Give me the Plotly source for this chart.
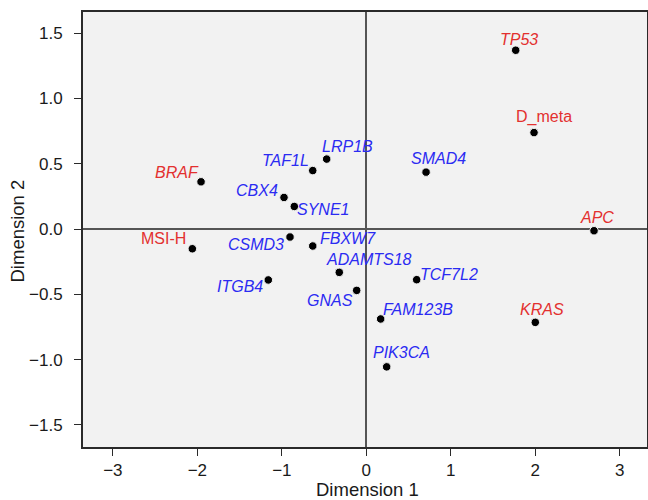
import plotly.graph_objects as go

# ---- data ----
names = ["TP53", "D_meta", "APC", "KRAS", "BRAF", "MSI-H",
         "LRP1B", "TAF1L", "CBX4", "SYNE1", "SMAD4", "CSMD3", "FBXW7",
         "ADAMTS18", "ITGB4", "TCF7L2", "GNAS", "FAM123B", "PIK3CA"]
dim1 = [1.768, 1.985, 2.695, 2.000, -1.956, -2.059,
        -0.469, -0.634, -0.974, -0.852, 0.707, -0.903, -0.634,
        -0.320, -1.160, 0.596, -0.114, 0.170, 0.241]
dim2 = [1.370, 0.739, -0.013, -0.715, 0.362, -0.151,
        0.536, 0.448, 0.242, 0.173, 0.436, -0.061, -0.130,
        -0.332, -0.390, -0.388, -0.470, -0.689, -1.056]
red_set = ["TP53", "D_meta", "APC", "KRAS", "BRAF", "MSI-H"]
upright_set = ["D_meta", "MSI-H"]
x_ticks = [-3, -2, -1, 0, 1, 2, 3]
y_ticks = [-1.5, -1.0, -0.5, 0.0, 0.5, 1.0, 1.5]
x_title = "Dimension 1"
y_title = "Dimension 2"

# ---- label placement styles (xanchor, xshift, yshift) ----
label_style = {
    "TP53": ("center", 3, 11),
    "D_meta": ("center", 10, 16),
    "APC": ("center", 3, 13),
    "KRAS": ("center", 7, 13),
    "BRAF": ("right", 0, 9),
    "MSI-H": ("right", -4, 10),
    "LRP1B": ("left", -7, 13),
    "TAF1L": ("right", -2, 10),
    "CBX4": ("right", -4, 7),
    "SYNE1": ("left", 1, -3),
    "SMAD4": ("center", 12, 14),
    "CSMD3": ("right", -4, -7),
    "FBXW7": ("left", 5, 8),
    "ADAMTS18": ("left", -15, 13),
    "ITGB4": ("right", -3, -7),
    "TCF7L2": ("left", 1, 5),
    "GNAS": ("right", -2, -10),
    "FAM123B": ("left", 0, 9),
    "PIK3CA": ("left", -16, 14),
}

RED = "#e3302f"
BLUE = "#2b2bf2"
FONT = "Liberation Sans, Arial, Helvetica, sans-serif"

fig = go.Figure()
fig.add_trace(go.Scatter(
    x=dim1, y=dim2, mode="markers",
    marker=dict(color="black", size=8.5, line=dict(color="#f2f2f2", width=1)),
    hovertext=names, showlegend=False,
))

annotations = []
for n, x, y in zip(names, dim1, dim2):
    xa, xs, ys = label_style[n]
    txt = n if n in upright_set else f"<i>{n}</i>"
    annotations.append(dict(
        x=x, y=y, xref="x", yref="y", text=txt, showarrow=False,
        xanchor=xa, yanchor="middle", xshift=xs, yshift=ys,
        font=dict(family=FONT, size=16, color=RED if n in red_set else BLUE),
    ))

# axis titles
annotations.append(dict(
    x=0.5, y=0, xref="paper", yref="paper", text=x_title, showarrow=False,
    xanchor="center", yanchor="middle", xshift=2, yshift=-42,
    font=dict(family=FONT, size=18.5, color="#1a1a1a"),
))
annotations.append(dict(
    x=0, y=0.5, xref="paper", yref="paper", text=y_title, showarrow=False,
    xanchor="center", yanchor="middle", xshift=-66, yshift=-2, textangle=-90,
    font=dict(family=FONT, size=18.5, color="#1a1a1a"),
))

fig.update_layout(
    width=648, height=500,
    margin=dict(l=83, r=1, t=12, b=52.5),
    paper_bgcolor="white", plot_bgcolor="#f2f2f2",
    font=dict(family=FONT, size=17, color="#1a1a1a"),
    annotations=annotations,
)
axis_common = dict(
    showgrid=False, zeroline=True, zerolinecolor="#555555", zerolinewidth=1.5,
    showline=True, mirror=True, linecolor="#2a2a2a", linewidth=2,
    ticks="outside", ticklen=7, tickcolor="#2a2a2a", tickwidth=1.3,
    tickfont=dict(family=FONT, size=17, color="#1a1a1a"),
    automargin=False,
)
fig.update_xaxes(range=[-3.353, 3.322], tickvals=x_ticks, **axis_common)
fig.update_yaxes(range=[-1.670, 1.663], tickvals=y_ticks, tickformat=".1f",
                 ticklabelstandoff=8, **axis_common)

# remove the browser's default page margin so the figure fills the window
fig.write_html("out.html",
               config={"displayModeBar": False},
               post_script="document.body.style.margin='0';document.body.style.overflow='hidden';")
